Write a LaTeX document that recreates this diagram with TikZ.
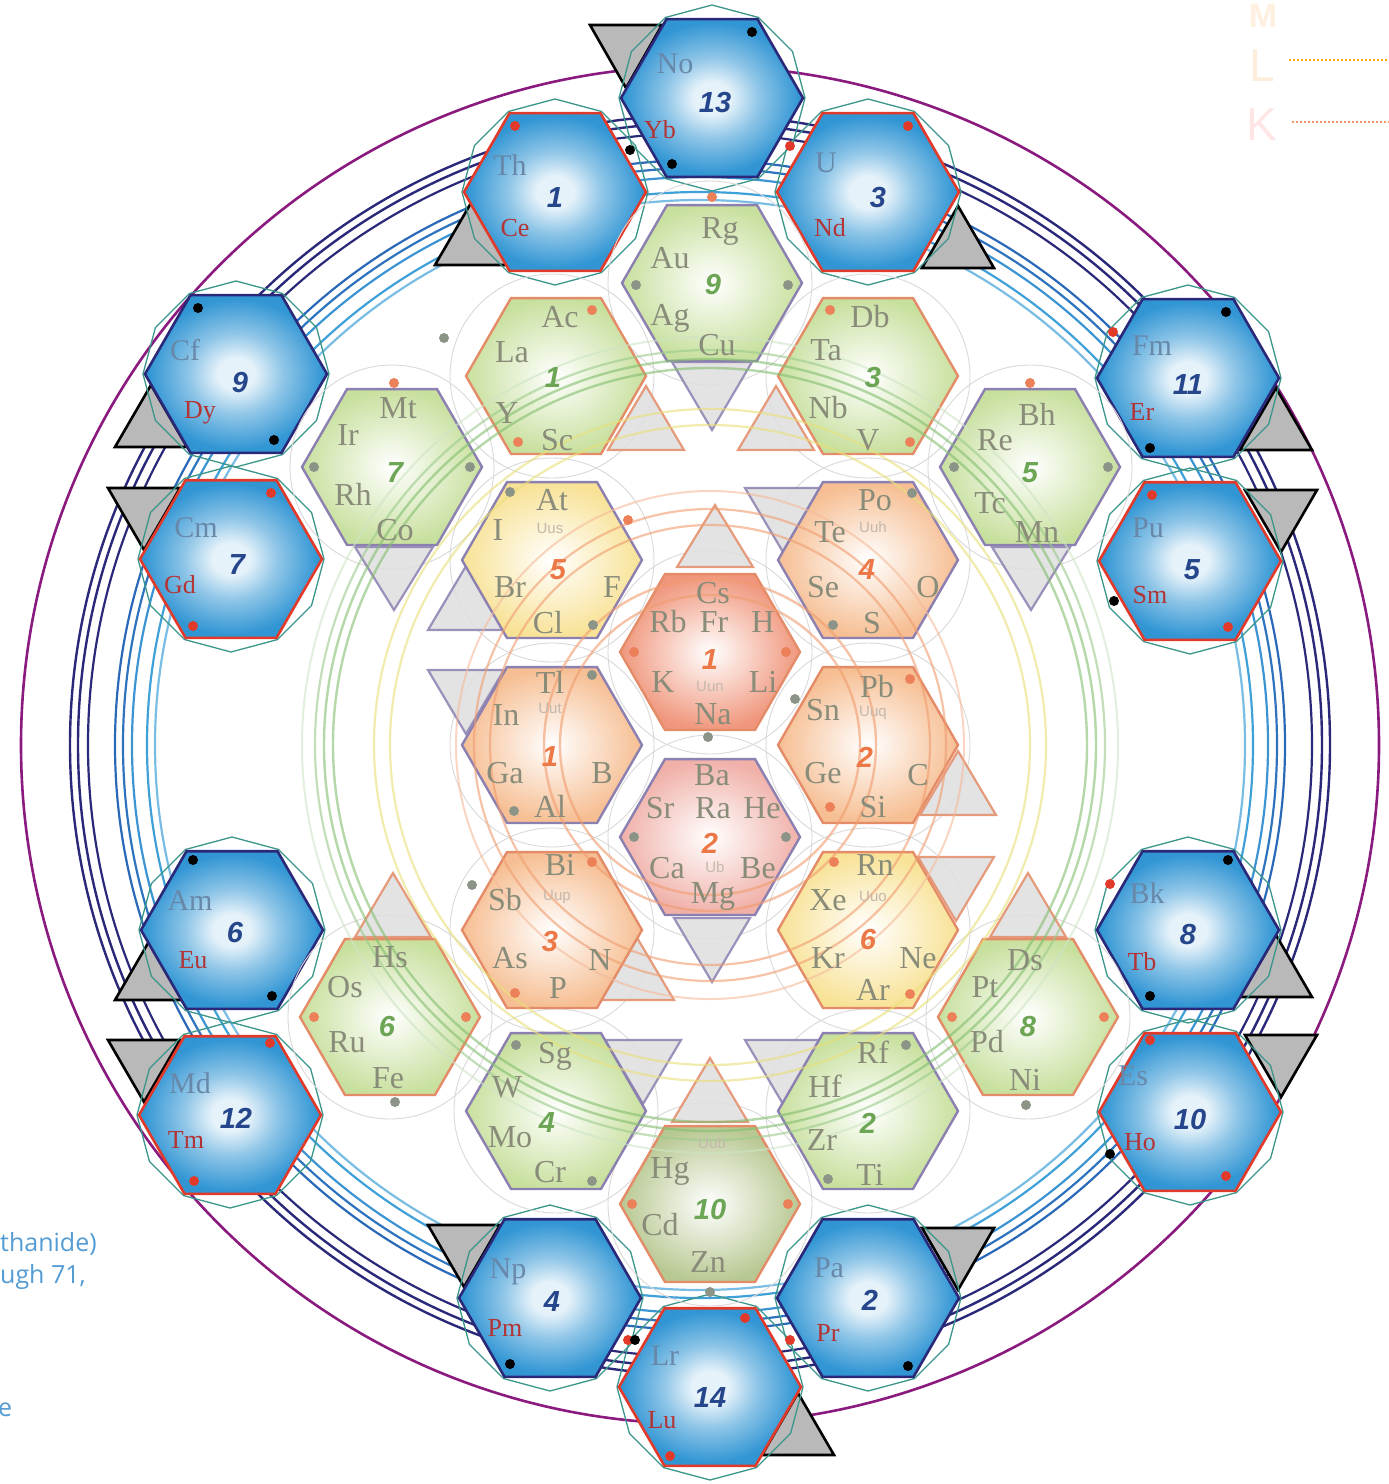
\documentclass[tikz,border=0pt]{standalone}
\usepackage{fontspec}
\setmainfont{Liberation Serif}
\newfontfamily\numfont{Liberation Sans}
\newfontfamily\labfont{Open Sans}
\usetikzlibrary{shapes.geometric}
\definecolor{hexblue}{RGB}{50,150,212}
\definecolor{hexedge}{RGB}{40,132,198}
\definecolor{hexinner}{RGB}{236,246,252}
\colorlet{hbA}{white!88!hexblue}
\colorlet{hbB}{white!45!hexblue}
\pgfdeclareradialshading{bhexshade}{\pgfpoint{0bp}{0bp}}{color(0bp)=(hbA); color(5bp)=(hbA); color(13bp)=(hbB); color(24bp)=(hexblue); color(50bp)=(hexedge)}
\definecolor{navyc}{RGB}{42,40,120}
\definecolor{redc}{RGB}{226,58,42}
\definecolor{tealc}{RGB}{58,150,138}
\definecolor{purpc}{RGB}{138,26,126}
\definecolor{bluec}{RGB}{42,104,184}
\definecolor{lbluec}{RGB}{64,160,216}
\definecolor{olpurp}{RGB}{140,128,176}
\definecolor{olorange}{RGB}{228,140,104}
\definecolor{grfill}{RGB}{200,224,158}
\definecolor{g10fill}{RGB}{184,200,146}
\definecolor{orfill}{RGB}{246,190,146}
\definecolor{yefill}{RGB}{248,226,150}
\definecolor{c1fill}{RGB}{240,150,124}
\definecolor{c2fill}{RGB}{240,176,168}
\definecolor{eltgray}{RGB}{138,140,122}
\definecolor{actgray}{RGB}{104,136,170}
\definecolor{lanred}{RGB}{178,52,52}
\definecolor{numblue}{RGB}{38,70,140}
\definecolor{numgreen}{RGB}{108,166,84}
\definecolor{numorange}{RGB}{236,120,72}
\definecolor{tinygray}{RGB}{196,184,172}
\definecolor{circor}{RGB}{240,156,110}
\definecolor{circye}{RGB}{232,224,120}
\definecolor{circgr}{RGB}{130,190,110}
\definecolor{dotgray}{RGB}{140,148,136}
\definecolor{dotor}{RGB}{236,128,88}
\definecolor{labblue}{RGB}{84,156,212}
\tikzset{
  bhex/.style={regular polygon, regular polygon sides=6, minimum size=182, inner sep=0, line width=2.6, shading=bhexshade},
  tealgon/.style={regular polygon, regular polygon sides=12, minimum size=186, shape border rotate=15, draw=tealc, line width=1.3, inner sep=0},
  ihex/.style={regular polygon, regular polygon sides=6, minimum size=180, inner sep=0, line width=2.4, shading=radial, inner color=white},
  faintc/.style={draw=gray!30, line width=0.9},
  otri/.style={fill=gray!55, draw=black, line width=2.6, line join=miter},
  itrip/.style={fill=gray!25, draw=olpurp, line width=2.2, opacity=0.85},
  itrio/.style={fill=gray!25, draw=olorange, line width=2.2, opacity=0.85},
  elt/.style={font=\fontsize{32}{32}\selectfont, text=eltgray, inner sep=0, text height=21, text depth=0},
  bact/.style={font=\fontsize{30}{30}\selectfont, text=actgray, inner sep=0, text height=20, text depth=0},
  bred/.style={font=\fontsize{26}{26}\selectfont, text=lanred, inner sep=0, text height=17, text depth=0},
  bnum/.style={font=\numfont\bfseries\itshape\fontsize{29}{29}\selectfont, text=numblue, inner sep=0},
  gnum/.style={font=\numfont\bfseries\itshape\fontsize{29}{29}\selectfont, text=numgreen, inner sep=0},
  onum/.style={font=\numfont\bfseries\itshape\fontsize{29}{29}\selectfont, text=numorange, inner sep=0},
  tiny/.style={font=\numfont\fontsize{15}{15}\selectfont, text=tinygray, inner sep=0},
  labt/.style={font=\labfont\fontsize{25}{28}\selectfont, text=labblue, inner sep=0, anchor=west},
}
\newcommand\BHEX[4]{\node[tealgon] (#1t) at (#2,#3) {};\node[bhex, draw=#4] (#1) at (#2,#3) {};}
\newcommand\IHEX[5]{\node[ihex, outer color=#4, draw=#5] (#1) at (#2,#3) {};}
\newcommand\ELT[3]{\node[elt] (e#3) at (#1,#2) {#3};}
\newcommand\ACT[3]{\node[bact] (a#3) at (#1,#2) {#3};}
\newcommand\LAN[3]{\node[bred] (l#3) at (#1,#2) {#3};}
\newcommand\TNY[3]{\node[tiny] (u#3#1) at (#1,#2) {#3};}
\newcommand\DT[3]{\fill[#3] #1 ++#2 circle (5);}
\begin{document}
\begin{tikzpicture}[x=1pt,y=-1pt]
\useasboundingbox (0,0) rectangle (1389,1484);
\fill[white] (0,0) rectangle (1389,1484);
\clip (0,0) rectangle (1389,1484);
% ---------- outer rings
\coordinate (O) at (700,745);
\draw[purpc, line width=2.6] (O) circle (679);
\draw[navyc, line width=2.4] (O) circle (630);
\draw[navyc, line width=2.4] (O) circle (622);
\draw[navyc, line width=2.2] (O) circle (612);
\draw[bluec, line width=2.2] (O) circle (585);
\draw[bluec!80!lbluec, line width=2.2] (O) circle (577);
\draw[lbluec!80!bluec, line width=2.2] (O) circle (568);
\draw[lbluec, line width=2.2] (O) circle (553);
\draw[lbluec!70, line width=2.2] (O) circle (545);
% ---------- outer triangles
\draw[otri] (590,25) -- (662,25) -- (626,88) -- cycle;
\draw[otri] (435,265) -- (507,265) -- (471,203) -- cycle;
\draw[otri] (922,268) -- (994,268) -- (958,206) -- cycle;
\draw[otri] (115,447) -- (187,447) -- (151,385) -- cycle;
\draw[otri] (108,488) -- (180,488) -- (144,550) -- cycle;
\draw[otri] (1240,450) -- (1312,450) -- (1276,388) -- cycle;
\draw[otri] (1245,490) -- (1317,490) -- (1281,552) -- cycle;
\draw[otri] (115,1000) -- (187,1000) -- (151,938) -- cycle;
\draw[otri] (108,1040) -- (180,1040) -- (144,1102) -- cycle;
\draw[otri] (1240,997) -- (1312,997) -- (1276,935) -- cycle;
\draw[otri] (1245,1035) -- (1317,1035) -- (1281,1097) -- cycle;
\draw[otri] (428,1225) -- (500,1225) -- (464,1287) -- cycle;
\draw[otri] (922,1228) -- (994,1228) -- (958,1290) -- cycle;
\draw[otri] (762,1455) -- (834,1455) -- (798,1393) -- cycle;
% ---------- blue hexes
\BHEX{B13}{712}{98}{navyc}
\BHEX{B1}{555}{192}{redc}
\BHEX{B3}{868}{192}{redc}
\BHEX{B9}{236}{374}{navyc}
\BHEX{B11}{1188}{378}{navyc}
\BHEX{B7}{231}{559}{redc}
\BHEX{B5}{1190}{561}{redc}
\BHEX{B6}{232}{930}{navyc}
\BHEX{B8}{1188}{930}{navyc}
\BHEX{B12}{230}{1115}{redc}
\BHEX{B10}{1190}{1112}{redc}
\BHEX{B4}{550}{1298}{navyc}
\BHEX{B2}{868}{1298}{navyc}
\BHEX{B14}{710}{1387}{redc}
% dots on blue hexes
\DT{(B13)}{(40,-66)}{black}\DT{(B13)}{(-40,66)}{black}
\DT{(B1)}{(-40,-66)}{redc}\DT{(B1)}{(75,-42)}{black}
\DT{(B3)}{(40,-66)}{redc}\DT{(B3)}{(-78,-46)}{redc}
\DT{(B9)}{(-38,-66)}{black}\DT{(B9)}{(38,66)}{black}
\DT{(B11)}{(38,-66)}{black}\DT{(B11)}{(-38,70)}{black}\DT{(B11)}{(-75,-46)}{redc}
\DT{(B7)}{(40,-66)}{redc}\DT{(B7)}{(-38,67)}{redc}
\DT{(B5)}{(-38,-66)}{redc}\DT{(B5)}{(38,66)}{redc}\DT{(B5)}{(-76,40)}{black}
\DT{(B6)}{(-39,-70)}{black}\DT{(B6)}{(40,66)}{black}
\DT{(B8)}{(40,-70)}{black}\DT{(B8)}{(-38,66)}{black}\DT{(B8)}{(-78,-46)}{redc}
\DT{(B12)}{(40,-72)}{redc}\DT{(B12)}{(-36,66)}{redc}
\DT{(B10)}{(-40,-72)}{redc}\DT{(B10)}{(36,64)}{redc}\DT{(B10)}{(-80,42)}{black}
\DT{(B4)}{(-40,66)}{black}\DT{(B4)}{(78,42)}{redc}\DT{(B4)}{(85,42)}{black}
\DT{(B2)}{(40,68)}{black}\DT{(B2)}{(-78,42)}{redc}
\DT{(B14)}{(35,-69)}{redc}\DT{(B14)}{(-40,69)}{redc}
% ---------- faint circumcircles around inner hexes
\foreach \p in {(710,652),(710,837),(552,745),(868,745),(552,560),(868,560),(552,930),(868,930),
  (710,283),(552,376),(868,376),(392,467),(1030,467),(390,1017),(1028,1017),(556,1111),(868,1111),(710,1204)}
  \draw[faintc] \p circle (102);
% ---------- inner triangles
\draw[itrip] (672,362) -- (752,362) -- (712,430) -- cycle;
\draw[itrio] (608,450) -- (684,450) -- (646,386) -- cycle;
\draw[itrio] (738,450) -- (814,450) -- (776,386) -- cycle;
\draw[itrip] (355,547) -- (433,547) -- (394,610) -- cycle;
\draw[itrip] (992,547) -- (1070,547) -- (1031,610) -- cycle;
\draw[itrip] (428,630) -- (504,630) -- (466,566) -- cycle;
\draw[itrio] (677,567) -- (753,567) -- (715,505) -- cycle;
\draw[itrip] (745,488) -- (821,488) -- (783,552) -- cycle;
\draw[itrip] (428,670) -- (504,670) -- (466,734) -- cycle;
\draw[itrio] (920,815) -- (996,815) -- (958,751) -- cycle;
\draw[itrip] (674,918) -- (750,918) -- (712,982) -- cycle;
\draw[itrio] (598,1000) -- (674,1000) -- (636,936) -- cycle;
\draw[itrio] (918,857) -- (994,857) -- (956,921) -- cycle;
\draw[itrio] (355,937) -- (431,937) -- (393,873) -- cycle;
\draw[itrio] (990,937) -- (1066,937) -- (1028,873) -- cycle;
\draw[itrip] (605,1040) -- (681,1040) -- (643,1104) -- cycle;
\draw[itrip] (745,1040) -- (821,1040) -- (783,1104) -- cycle;
\draw[itrio] (672,1122) -- (748,1122) -- (710,1058) -- cycle;
% ---------- inner hexes
\IHEX{C1}{710}{652}{c1fill}{olorange}
\IHEX{C2}{710}{837}{c2fill}{olpurp}
\IHEX{O1}{552}{745}{orfill}{olpurp}
\IHEX{O2}{868}{745}{orfill}{olorange}
\IHEX{Y5}{552}{560}{yefill}{olpurp}
\IHEX{O4}{868}{560}{orfill}{olpurp}
\IHEX{O3}{552}{930}{orfill}{olorange}
\IHEX{Y6}{868}{930}{yefill}{olorange}
\IHEX{G9}{712}{283}{grfill}{olpurp}
\IHEX{G1}{556}{376}{grfill}{olorange}
\IHEX{G3}{868}{376}{grfill}{olorange}
\IHEX{G7}{392}{467}{grfill}{olpurp}
\IHEX{G5}{1030}{467}{grfill}{olpurp}
\IHEX{G6}{390}{1017}{grfill}{olorange}
\IHEX{G8}{1028}{1017}{grfill}{olorange}
\IHEX{G4}{556}{1111}{grfill}{olpurp}
\IHEX{G2}{868}{1111}{grfill}{olpurp}
\IHEX{G10}{710}{1204}{g10fill}{olorange}
% ---------- inner rings (over the hexes, translucent)
\begin{scope}[opacity=0.6]
\coordinate (I) at (710,745);
\draw[circor, line width=2.4] (I) circle (150);
\draw[circor, line width=2.4] (I) circle (166);
\draw[circor, line width=2.2] (I) circle (220);
\draw[circor, line width=2.2] (I) circle (236);
\draw[circor!70, line width=2] (I) circle (254);
\draw[circye, line width=2.2] (I) circle (320);
\draw[circye, line width=2.2] (I) circle (336);
\draw[circgr, line width=2.4] (I) circle (377);
\draw[circgr, line width=2.4] (I) circle (386);
\draw[circgr!80, line width=2.2] (I) circle (395);
\draw[circgr!40, line width=2] (I) circle (408);
\end{scope}
% ---------- dots on inner hexes
\DT{(C1)}{(-76,0)}{dotor}\DT{(C1)}{(76,0)}{dotor}
\DT{(C2)}{(-76,0)}{dotgray}\DT{(C2)}{(76,0)}{dotgray}
\DT{(O1)}{(40,-70)}{dotgray}\DT{(O1)}{(-38,66)}{dotgray}
\DT{(Y5)}{(-42,-68)}{dotgray}\DT{(Y5)}{(41,65)}{dotgray}
\DT{(O4)}{(44,-67)}{dotgray}\DT{(O4)}{(-35,65)}{dotgray}
\DT{(O2)}{(42,-66)}{dotor}\DT{(O2)}{(-38,62)}{dotor}
\DT{(O3)}{(40,-68)}{dotor}\DT{(O3)}{(-37,63)}{dotor}
\DT{(Y6)}{(-34,-68)}{dotor}\DT{(Y6)}{(42,64)}{dotor}
\DT{(G9)}{(-76,2)}{dotgray}\DT{(G9)}{(76,2)}{dotgray}
\DT{(G1)}{(36,-66)}{dotor}\DT{(G1)}{(-38,66)}{dotor}
\DT{(G3)}{(-38,-66)}{dotor}\DT{(G3)}{(42,66)}{dotor}
\DT{(G7)}{(-78,0)}{dotgray}\DT{(G7)}{(78,0)}{dotgray}
\DT{(G5)}{(-76,0)}{dotgray}\DT{(G5)}{(78,0)}{dotgray}
\DT{(G6)}{(-76,0)}{dotor}\DT{(G6)}{(76,0)}{dotor}
\DT{(G8)}{(-76,0)}{dotor}\DT{(G8)}{(76,0)}{dotor}
\DT{(G4)}{(-40,-66)}{dotgray}\DT{(G4)}{(36,70)}{dotgray}
\DT{(G2)}{(38,-66)}{dotgray}\DT{(G2)}{(-40,68)}{dotgray}
\DT{(G10)}{(-78,0)}{dotor}\DT{(G10)}{(78,0)}{dotor}
\DT{(G9)}{(0,-86)}{dotor}\DT{(G7)}{(2,-84)}{dotor}\DT{(G5)}{(0,-84)}{dotor}
\DT{(G6)}{(5,85)}{dotgray}\DT{(G8)}{(-2,88)}{dotgray}\DT{(G10)}{(0,88)}{dotgray}
\DT{(C1)}{(-2,85)}{dotgray}\DT{(C2)}{(85,-138)}{dotgray}\DT{(O3)}{(-80,-45)}{dotgray}
\DT{(Y5)}{(76,-40)}{dotor}\DT{(G1)}{(-112,-38)}{dotgray}
% ---------- blue hex texts
\ACT{675}{63}{No}\LAN{660}{130}{Yb}\node[bnum] (n13) at (715,103) {13};
\ACT{510}{165}{Th}\LAN{515}{228}{Ce}\node[bnum] (n1) at (555,198) {1};
\ACT{826}{162}{U}\LAN{830}{228}{Nd}\node[bnum] (n3) at (878,198) {3};
\ACT{185}{350}{Cf}\LAN{200}{410}{Dy}\node[bnum] (n9) at (240,383) {9};
\ACT{1152}{345}{Fm}\LAN{1142}{412}{Er}\node[bnum] (n11) at (1188,385) {11};
\ACT{196}{527}{Cm}\LAN{180}{585}{Gd}\node[bnum] (n7) at (237,565) {7};
\ACT{1148}{527}{Pu}\LAN{1150}{595}{Sm}\node[bnum] (n5) at (1192,570) {5};
\ACT{190}{900}{Am}\LAN{193}{960}{Eu}\node[bnum] (n6) at (235,933) {6};
\ACT{1147}{893}{Bk}\LAN{1142}{962}{Tb}\node[bnum] (n8) at (1188,935) {8};
\ACT{190}{1083}{Md}\LAN{186}{1140}{Tm}\node[bnum] (n12) at (236,1118) {12};
\ACT{1133}{1075}{Es}\LAN{1140}{1142}{Ho}\node[bnum] (n10) at (1190,1120) {10};
\ACT{508}{1268}{Np}\LAN{505}{1328}{Pm}\node[bnum] (n4) at (552,1302) {4};
\ACT{829}{1267}{Pa}\LAN{828}{1333}{Pr}\node[bnum] (n2) at (870,1300) {2};
\ACT{665}{1355}{Lr}\LAN{662}{1420}{Lu}\node[bnum] (n14) at (710,1398) {14};
% ---------- inner texts
\ELT{713}{593}{Cs}\ELT{668}{622}{Rb}\ELT{714}{622}{Fr}\ELT{763}{622}{H}
\node[onum] (c1n) at (710,660) {1};\ELT{663}{682}{K}\TNY{710}{686}{Uun}\ELT{763}{682}{Li}\ELT{713}{714}{Na}
\ELT{712}{775}{Ba}\ELT{660}{808}{Sr}\ELT{713}{808}{Ra}\ELT{762}{808}{He}
\node[onum] (c2n) at (710,843) {2};\ELT{667}{868}{Ca}\TNY{715}{867}{Ub}\ELT{758}{868}{Be}\ELT{713}{893}{Mg}
\ELT{550}{683}{Tl}\TNY{550}{708}{Uut}\ELT{506}{715}{In}\node[onum] (o1n) at (550,757) {1};
\ELT{505}{773}{Ga}\ELT{602}{773}{B}\ELT{550}{807}{Al}
\ELT{552}{500}{At}\ELT{498}{530}{I}\TNY{550}{528}{Uus}\node[onum] (y5n) at (558,570) {5};
\ELT{510}{587}{Br}\ELT{612}{587}{F}\ELT{548}{623}{Cl}
\ELT{875}{500}{Po}\ELT{830}{532}{Te}\TNY{873}{527}{Uuh}\node[onum] (o4n) at (867,570) {4};
\ELT{823}{587}{Se}\ELT{928}{587}{O}\ELT{872}{623}{S}
\ELT{877}{687}{Pb}\ELT{823}{710}{Sn}\TNY{873}{713}{Uuq}\node[onum] (o2n) at (865,757) {2};
\ELT{823}{773}{Ge}\ELT{918}{775}{C}\ELT{873}{807}{Si}
\ELT{560}{865}{Bi}\ELT{505}{900}{Sb}\TNY{557}{897}{Uup}\node[onum] (o3n) at (550,942) {3};
\ELT{510}{958}{As}\ELT{600}{960}{N}\ELT{558}{988}{P}
\ELT{875}{865}{Rn}\ELT{828}{900}{Xe}\TNY{873}{896}{Uuo}\node[onum] (y6n) at (868,940) {6};
\ELT{828}{958}{Kr}\ELT{918}{958}{Ne}\ELT{873}{990}{Ar}
\ELT{720}{228}{Rg}\ELT{670}{258}{Au}\node[gnum] (g9n) at (713,285) {9};\ELT{670}{315}{Ag}\ELT{717}{345}{Cu}
\ELT{560}{317}{Ac}\ELT{512}{352}{La}\node[gnum] (g1n) at (553,378) {1};\ELT{507}{413}{Y}\ELT{557}{440}{Sc}
\ELT{870}{317}{Db}\ELT{826}{350}{Ta}\node[gnum] (g3n) at (873,378) {3};\ELT{828}{408}{Nb}\ELT{868}{440}{V}
\ELT{398}{408}{Mt}\ELT{348}{435}{Ir}\node[gnum] (g7n) at (395,473) {7};\ELT{353}{495}{Rh}\ELT{395}{530}{Co}
\ELT{1037}{415}{Bh}\ELT{995}{440}{Re}\node[gnum] (g5n) at (1030,473) {5};\ELT{990}{503}{Tc}\ELT{1037}{532}{Mn}
\ELT{390}{957}{Hs}\ELT{345}{987}{Os}\node[gnum] (g6n) at (387,1027) {6};\ELT{347}{1042}{Ru}\ELT{388}{1078}{Fe}
\ELT{1025}{960}{Ds}\ELT{985}{987}{Pt}\node[gnum] (g8n) at (1028,1027) {8};\ELT{987}{1042}{Pd}\ELT{1025}{1080}{Ni}
\ELT{555}{1053}{Sg}\ELT{507}{1087}{W}\node[gnum] (g4n) at (547,1123) {4};\ELT{510}{1137}{Mo}\ELT{550}{1172}{Cr}
\ELT{873}{1053}{Rf}\ELT{825}{1087}{Hf}\node[gnum] (g2n) at (868,1123) {2};\ELT{822}{1140}{Zr}\ELT{870}{1175}{Ti}
\TNY{712}{1143}{Uub}\ELT{670}{1168}{Hg}\node[gnum] (g10n) at (710,1210) {10};\ELT{660}{1225}{Cd}\ELT{708}{1262}{Zn}
% ---------- partial legend, top right
\node[font=\numfont\bfseries\fontsize{34}{34}\selectfont, text=orange!12, inner sep=0] (legM) at (1263,16) {M};
\node[font=\numfont\fontsize{46}{46}\selectfont, text=orange!14, inner sep=0] (legL) at (1262,66) {L};
\node[font=\numfont\fontsize{46}{46}\selectfont, text=red!10, inner sep=0] (legK) at (1262,125) {K};
\coordinate (lLend) at (1389,60);
\coordinate (lKend) at (1389,122);
\draw[orange!70!yellow, line width=2, dotted] (legL.east) ++(14,-6) -- (lLend);
\draw[red!40!orange!60, line width=2, dotted] (legK.east) ++(14,-3) -- (lKend);
% ---------- partial caption, bottom left
\node[labt] (cap1) at (0,1244) {thanide)};
\node[labt] (cap2) at (0,1277) {ugh 71,};
\node[labt] (cap3) at (-2,1410) {e};
\end{tikzpicture}
\end{document}
